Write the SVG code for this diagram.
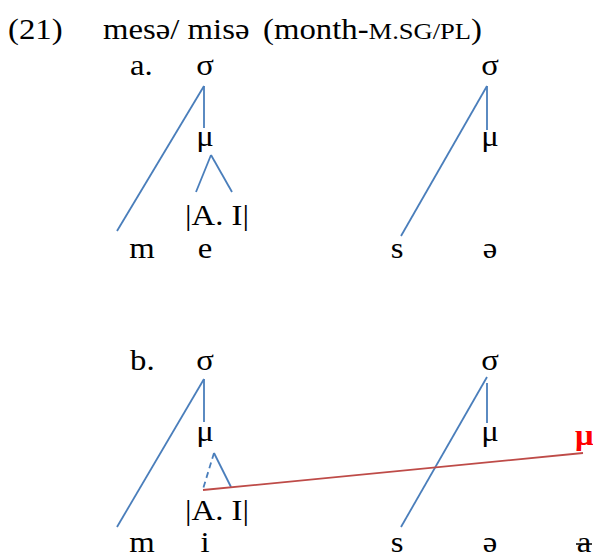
<svg xmlns="http://www.w3.org/2000/svg" width="593" height="556" viewBox="0 0 593 556">
<style>
text{font-family:"Liberation Serif","Times New Roman",serif;font-size:29px;fill:#000}
.m{text-anchor:middle}
.sc{font-size:23.5px}
.b{stroke:#4A7EBB;stroke-width:1.8;fill:none}
.r{stroke:#BE4B48;stroke-width:1.8;fill:none}
.d{stroke-dasharray:6 4}
.red{fill:#FF0000;font-weight:bold}
</style>
<rect width="593" height="556" fill="#fff"/>
<g id="title">
<text transform="translate(8,39) scale(1.13,1)">(21)</text>
<text transform="translate(103,39) scale(1.13,1)">mesə/ misə</text>
<text transform="translate(263,39) scale(1.13,1)">(month-<tspan class="sc">M.SG/PL</tspan>)</text>
</g>
<g id="connectors">
<line class="b" x1="204" y1="86" x2="204" y2="128"/>
<line class="b" x1="204" y1="86" x2="117" y2="231"/>
<line class="b" x1="211" y1="155" x2="196" y2="192"/>
<line class="b" x1="211" y1="155" x2="232" y2="192"/>
<line class="b" x1="487" y1="86" x2="487" y2="130"/>
<line class="b" x1="487" y1="86" x2="401" y2="236"/>
<line class="b" x1="204" y1="379" x2="204" y2="422"/>
<line class="b" x1="204" y1="379" x2="117" y2="527"/>
<line class="b d" x1="214" y1="453" x2="203" y2="489"/>
<line class="b" x1="214" y1="453" x2="231" y2="487"/>
<line class="b" x1="487" y1="383" x2="487" y2="423"/>
<line class="b" x1="487" y1="377" x2="401" y2="527"/>
<line class="r" x1="203" y1="490" x2="583" y2="453"/>
</g>
<g id="label-a"><text transform="translate(130,75) scale(1.13,1)">a.</text></g>
<g id="a-sigma1"><text class="m" transform="translate(205,75) scale(1.13,1)">σ</text></g>
<g id="a-mu1"><text class="m" transform="translate(205,146) scale(1.13,1)">μ</text></g>
<g id="a-AI"><text class="m" transform="translate(217,225) scale(1.13,1)">|A. I|</text></g>
<g id="a-m"><text class="m" transform="translate(142,258) scale(1.13,1)">m</text></g>
<g id="a-e"><text class="m" transform="translate(205,258) scale(1.13,1)">e</text></g>
<g id="a-sigma2"><text class="m" transform="translate(490,75) scale(1.13,1)">σ</text></g>
<g id="a-mu2"><text class="m" transform="translate(490,146) scale(1.13,1)">μ</text></g>
<g id="a-s"><text class="m" transform="translate(397,258) scale(1.13,1)">s</text></g>
<g id="a-schwa"><text class="m" transform="translate(490,258) scale(1.13,1)">ə</text></g>
<g id="label-b"><text transform="translate(130,370) scale(1.13,1)">b.</text></g>
<g id="b-sigma1"><text class="m" transform="translate(205,370) scale(1.13,1)">σ</text></g>
<g id="b-mu1"><text class="m" transform="translate(205,441) scale(1.13,1)">μ</text></g>
<g id="b-AI"><text class="m" transform="translate(217,520) scale(1.13,1)">|A. I|</text></g>
<g id="b-m"><text class="m" transform="translate(142,552) scale(1.13,1)">m</text></g>
<g id="b-i"><text class="m" transform="translate(205,552) scale(1.13,1)">i</text></g>
<g id="b-sigma2"><text class="m" transform="translate(490,370) scale(1.13,1)">σ</text></g>
<g id="b-mu2"><text class="m" transform="translate(490,441) scale(1.13,1)">μ</text></g>
<g id="b-mu-red"><text class="red" transform="translate(575,445) scale(1.13,1)">μ</text></g>
<g id="b-s"><text class="m" transform="translate(397,552) scale(1.13,1)">s</text></g>
<g id="b-schwa"><text class="m" transform="translate(490,552) scale(1.13,1)">ə</text></g>
<g id="b-a"><text class="m" transform="translate(584,552) scale(1.13,1)">a</text><line x1="576" y1="544" x2="592" y2="544" stroke="#000" stroke-width="1.5"/></g>
</svg>
